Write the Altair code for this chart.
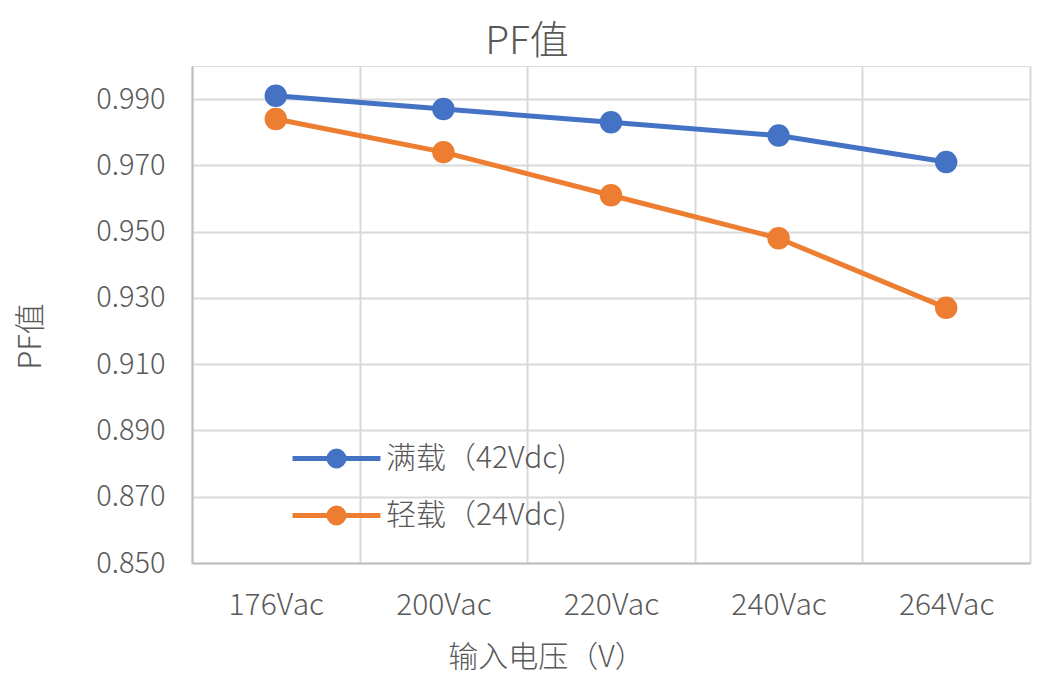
import altair as alt
import pandas as pd

categories = ["176Vac", "200Vac", "220Vac", "240Vac", "264Vac"]
series_names = ["满载（42Vdc)", "轻载（24Vdc)"]
full_load = [0.991, 0.987, 0.983, 0.979, 0.971]
light_load = [0.984, 0.974, 0.961, 0.948, 0.927]
y_ticks = [0.85, 0.87, 0.89, 0.91, 0.93, 0.95, 0.97, 0.99]
colors = ["#4472C4", "#ED7D31"]

rows = []
for name, vals in zip(series_names, [full_load, light_load]):
    for c, v in zip(categories, vals):
        rows.append({"voltage": c, "pf": v, "series": name})
df = pd.DataFrame(rows)

FONT = "Noto Sans CJK SC"
TXT = "#595959"
W = 300

# legend symbol: line with a circle in the middle (unit box scaled by sqrt(size)/2 = 15px)
sym = ("M-2.93,0L2.93,0"
       "M0.5,0A0.5,0.5,0,1,1,-0.5,0A0.5,0.5,0,1,1,0.5,0Z")

leg = alt.Legend(
    title=None,
    orient="none",
    legendX=127,
    legendY=375,
    symbolType=sym,
    symbolSize=900,
    symbolStrokeWidth=5,
    symbolOpacity=1,
    labelOffset=32,
    labelFont=FONT,
    labelFontSize=30,
    labelFontWeight=W,
    labelColor=TXT,
    rowPadding=22,
    labelLimit=400,
)
cscale = alt.Scale(domain=series_names, range=colors)

x_enc = alt.X(
    "voltage:N",
    sort=categories,
    scale=alt.Scale(paddingInner=0, paddingOuter=0),
    axis=alt.Axis(
        title="输入电压（V）",
        titleFont=FONT,
        titleFontSize=30,
        titleFontWeight=W,
        titleColor=TXT,
        titleX=354,
        titleY=94,
        titleAlign="center",
        titleBaseline="middle",
        labelFont=FONT,
        labelFontSize=30,
        labelFontWeight=W,
        labelColor=TXT,
        labelAngle=0,
        labelPadding=27,
        ticks=False,
        tickBand="extent",
        grid=True,
        gridColor="#D9D9D9",
        gridWidth=2,
        domainColor="#BFBFBF",
        domainWidth=2,
    ),
)
y_enc = alt.Y(
    "pf:Q",
    scale=alt.Scale(domain=[0.85, 1.0], nice=False, zero=False),
    axis=alt.Axis(
        title="PF值",
        values=y_ticks,
        format=".3f",
        titleFont=FONT,
        titleFontSize=31,
        titleFontWeight=W,
        titleColor=TXT,
        titlePadding=48,
        titleY=270,
        titleAlign="center",
        labelFont=FONT,
        labelFontSize=29,
        labelFontWeight=W,
        labelColor=TXT,
        labelPadding=27,
        ticks=False,
        grid=True,
        gridColor="#D9D9D9",
        gridWidth=2,
        domainColor="#BFBFBF",
        domainWidth=2,
    ),
)

base = alt.Chart(df)

lines = base.mark_line(strokeWidth=5, strokeCap="round").encode(
    x=x_enc,
    y=y_enc,
    stroke=alt.Stroke("series:N", scale=cscale, sort=series_names, legend=leg),
)
points = base.mark_point(filled=True, shape="circle", size=420, opacity=1).encode(
    x=x_enc,
    y=y_enc,
    fill=alt.Fill("series:N", scale=cscale, sort=series_names, legend=leg),
    stroke=alt.Stroke("series:N", scale=cscale, sort=series_names, legend=leg),
)

chart = (
    alt.layer(lines, points)
    .properties(
        width=838,
        height=497,
        autosize=alt.AutoSizeParams(type="none"),
        padding={"left": 184, "top": 58, "right": 14, "bottom": 111},
        title=alt.TitleParams(
            "PF值",
            font=FONT,
            fontSize=39,
            fontWeight=W,
            color=TXT,
            anchor="middle",
            dx=-84,
            offset=4,
        ),
    )
    .configure_view(stroke=None)
    .configure(background="white")
)

chart.save("out.html", embed_options={"renderer": "svg", "actions": False})
